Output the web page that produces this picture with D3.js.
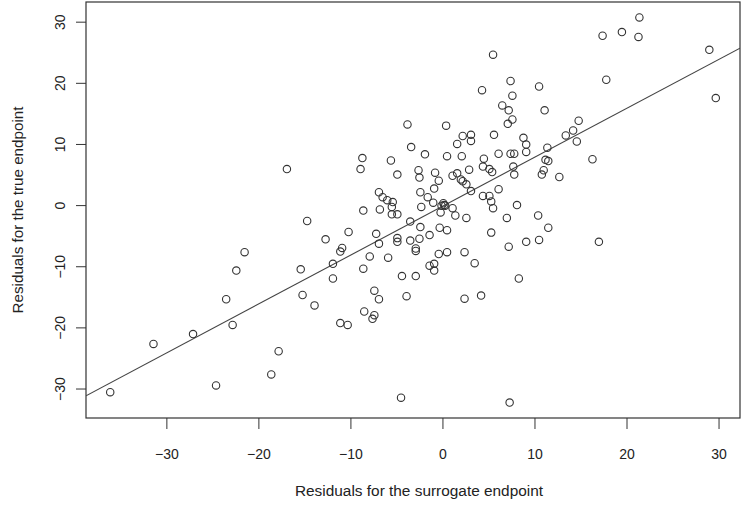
<!DOCTYPE html>
<html>
<head>
<meta charset="utf-8">
<script src="https://cdn.jsdelivr.net/npm/d3@7"></script>
<style>
  body { margin: 0; background: #fff; }
  svg { display: block; }
  text { font-family: "Liberation Sans", Arial, Helvetica, sans-serif; fill: #222; }
</style>
</head>
<body>
<div id="chart"></div>
<script>
// residuals for the surrogate endpoint (x) and the true endpoint (y), one per trial
var surrogate = [
  -16.9, -14.7, -15.4, -15.2, -13.9, -12.7, -17.8, -18.6, -11.1, -10.3,
  -8.5, -7.4, -7.6, -4.5, 7.3, -21.5, -22.4, -23.5, -22.8, -27.1,
  -31.4, -24.6, -36.1, -11.9, -11.9, -11.1, -10.9, -10.2, -8.6, -6.8,
  -8.6, -7.9, -7.2, -6.9, -5.9, -7.4, -6.9, -4.4, -2.9, -3.9,
  -4.9, -4.9, -3.5, -2.5, -2.9, -2.9, -3.5, -2.4, -1.4, -0.3,
  0.5, -0.4, 0.5, -1.4, -0.9, -0.9, 2.4, 3.5, 2.4, 4.2,
  8.3, 5.3, 7.2, 9.1, 10.5, 17.0, 11.5, 10.4, 7.0, 8.1,
  5.5, 5.3, 4.4, 5.1, 6.1, 2.6, 3.1, 1.1, 1.6, 2.0,
  2.2, 2.9, 1.4, 2.6, 1.1, -0.2, 0.1, 0.2, -0.1, 0.3,
  -1.0, -0.9, -1.6, -2.4, -2.3, -5.4, -5.5, -5.5, -4.9, -6.0,
  -6.5, -6.9, -0.4, -0.8, -2.6, -2.5, -4.9, -5.6, -8.7, -8.9,
  -3.4, -1.9, -3.8, 0.4, 0.5, 2.1, 2.2, 3.1, 3.1, 1.6,
  4.3, 5.5, 4.5, 4.4, 5.1, 5.4, 5.6, 6.1, 7.4, 7.8,
  7.7, 7.8, 8.8, 9.1, 9.1, 11.4, 11.2, 11.5, 11.0, 10.8,
  12.7, 6.5, 7.2, 7.6, 7.1, 11.1, 7.4, 7.6, 10.5, 14.8,
  14.2, 13.4, 14.6, 16.3, 17.8, 17.4, 19.5, 21.4, 21.3, 29.0,
  29.7
];
var trueEndpoint = [
  5.9, -2.6, -10.5, -14.7, -16.4, -5.6, -23.9, -27.7, -19.3, -19.6,
  -17.4, -18.0, -18.6, -31.5, -32.3, -7.7, -10.7, -15.4, -19.6, -21.1,
  -22.7, -29.5, -30.6, -9.6, -12.0, -7.6, -7.0, -4.4, -0.9, -0.7,
  -10.4, -8.4, -4.7, -6.3, -8.6, -14.0, -15.4, -11.6, -11.6, -14.9,
  -5.4, -6.0, -5.8, -5.5, -7.1, -7.5, -2.7, -3.6, -4.9, -3.7,
  -4.1, -8.0, -7.7, -9.9, -9.6, -10.7, -7.7, -9.5, -15.3, -14.8,
  -12.0, -4.5, -6.8, -6.0, -5.7, -6.0, -3.7, -1.7, -2.1, 0.0,
  -0.5, 0.6, 1.5, 1.5, 2.6, 3.4, 2.3, 4.8, 5.2, 4.2,
  3.9, 5.8, -1.7, -2.1, -0.5, -1.2, 0.3, 0.0, -0.1, -0.1,
  0.4, 2.7, 1.3, 2.1, -0.3, 0.5, -0.3, -1.5, -1.5, 0.8,
  1.3, 2.1, 4.0, 5.3, 5.7, 4.5, 5.0, 7.3, 7.7, 5.9,
  9.5, 8.3, 13.2, 13.0, 8.0, 8.0, 11.3, 11.5, 10.5, 10.0,
  18.8, 24.6, 7.6, 6.3, 5.9, 5.4, 11.5, 8.4, 8.4, 8.4,
  6.3, 5.0, 11.0, 9.9, 8.7, 9.4, 7.4, 7.2, 5.7, 5.0,
  4.6, 16.3, 15.5, 14.0, 13.3, 15.5, 20.3, 17.9, 19.4, 13.8,
  12.2, 11.4, 10.4, 7.5, 20.5, 27.7, 28.3, 30.7, 27.5, 25.4,
  17.5
];
var xTicks = [-30, -20, -10, 0, 10, 20, 30];
var yTicks = [-30, -20, -10, 0, 10, 20, 30];
// fitted line: true = intercept + slope * surrogate
var fitIntercept = -0.2;
var fitSlope = 0.80;

var width = 749, height = 505;
var margin = { left: 86, right: 9, top: 2, bottom: 87 };
var innerW = width - margin.left - margin.right;
var innerH = height - margin.top - margin.bottom;

var points = surrogate.map(function (d, i) { return { x: d, y: trueEndpoint[i] }; });

// R style axis range: data range widened by 4%
function padded(arr) {
  var e = d3.extent(arr), p = (e[1] - e[0]) * 0.04;
  return [e[0] - p, e[1] + p];
}

var x = d3.scaleLinear().domain(padded(surrogate)).range([0, innerW]);
var y = d3.scaleLinear().domain(padded(trueEndpoint)).range([innerH, 0]);

var fmt = function (d) { return d < 0 ? "\u2212" + Math.abs(d) : String(d); };

var svg = d3.select("#chart").append("svg")
  .attr("width", width).attr("height", height);
svg.append("rect").attr("width", width).attr("height", height).attr("fill", "#fff");

var g = svg.append("g").attr("transform", "translate(" + margin.left + "," + margin.top + ")");

// x axis
var xAxis = g.append("g")
  .attr("transform", "translate(0," + innerH + ")")
  .call(d3.axisBottom(x).tickValues(xTicks).tickFormat(fmt).tickSize(11).tickSizeOuter(0).tickPadding(20));
xAxis.select(".domain").remove();
xAxis.selectAll(".tick line").attr("stroke", "#333");
xAxis.selectAll(".tick text")
  .attr("font-size", 14).attr("fill", "#222")
  .attr("font-family", "'Liberation Sans', Arial, sans-serif");

// y axis, labels turned like R's default
var yAxis = g.append("g")
  .call(d3.axisLeft(y).tickValues(yTicks).tickFormat(fmt).tickSize(10).tickSizeOuter(0));
yAxis.select(".domain").remove();
yAxis.selectAll(".tick line").attr("stroke", "#333");
yAxis.selectAll(".tick text")
  .attr("x", null).attr("dy", null)
  .attr("transform", "translate(-26,0) rotate(-90)")
  .attr("text-anchor", "middle")
  .attr("dominant-baseline", "central")
  .attr("font-size", 14).attr("fill", "#222")
  .attr("font-family", "'Liberation Sans', Arial, sans-serif");

// box
g.append("rect")
  .attr("width", innerW).attr("height", innerH)
  .attr("fill", "none").attr("stroke", "#333").attr("stroke-width", 1.2);

// regression line across the whole plot region
var xd = x.domain();
g.append("clipPath").attr("id", "clip").append("rect").attr("width", innerW).attr("height", innerH);
g.append("line")
  .attr("clip-path", "url(#clip)")
  .attr("x1", x(xd[0])).attr("y1", y(fitIntercept + fitSlope * xd[0]))
  .attr("x2", x(xd[1])).attr("y2", y(fitIntercept + fitSlope * xd[1]))
  .attr("stroke", "#444").attr("stroke-width", 1.1);

// points
g.selectAll("circle.pt")
  .data(points)
  .enter()
  .append("circle")
  .attr("class", "pt")
  .attr("cx", function (d) { return x(d.x); })
  .attr("cy", function (d) { return y(d.y); })
  .attr("r", 3.7)
  .attr("fill", "none")
  .attr("stroke", "#333")
  .attr("stroke-width", 1.1);

// axis titles
svg.append("text")
  .attr("x", 419).attr("y", 496)
  .attr("text-anchor", "middle").attr("font-size", 15.4)
  .text("Residuals for the surrogate endpoint");

svg.append("text")
  .attr("transform", "translate(23,210) rotate(-90)")
  .attr("text-anchor", "middle").attr("font-size", 15.2)
  .text("Residuals for the true endpoint");
</script>
</body>
</html>
